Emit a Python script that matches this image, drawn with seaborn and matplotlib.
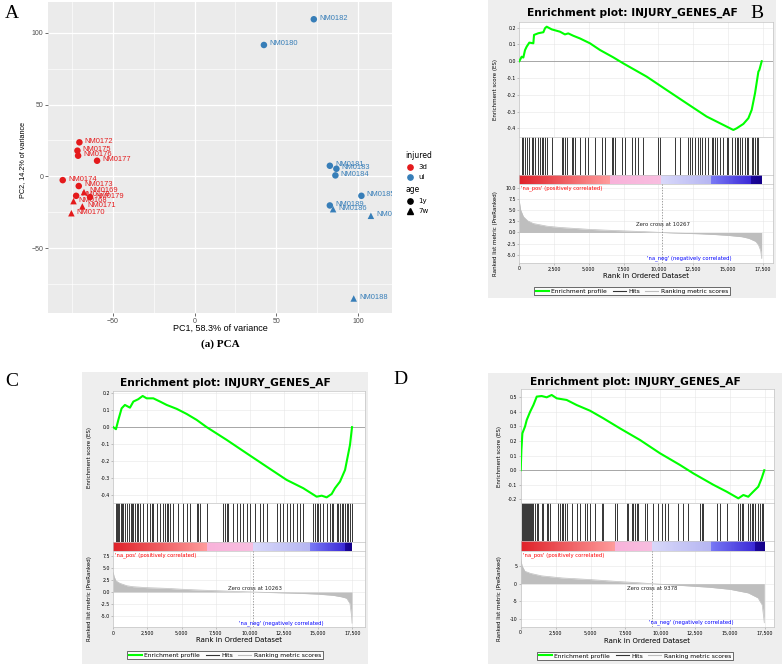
import matplotlib
matplotlib.use("Agg")
import numpy as np
import pandas as pd
import matplotlib.pyplot as plt
import seaborn as sns
from matplotlib.lines import Line2D
from matplotlib.patches import Rectangle
from matplotlib.colors import LinearSegmentedColormap

W, H = 782, 664

# --- panel A: PCA ---
pca_sample = ["NM0172", "NM0175", "NM0176", "NM0177", "NM0174", "NM0173",
              "NM0178", "NM0179", "NM0169", "NM0168", "NM0171", "NM0170",
              "NM0182", "NM0180", "NM0181", "NM0183", "NM0184", "NM0185",
              "NM0189", "NM0186", "NM0187", "NM0188"]
pca_pc1 = [-70.4, -71.6, -71.2, -59.6, -80.6, -70.8, -72.4, -63.9, -67.6, -74.0, -68.6, -75.3,
           72.9, 42.4, 82.7, 86.7, 86.1, 102.0, 82.7, 84.7, 107.8, 97.3]
pca_pc2 = [23.7, 17.9, 14.4, 10.9, -2.6, -6.7, -13.5, -14.4, -10.9, -17.2, -20.9, -25.6,
           109.3, 91.4, 7.4, 5.3, 0.7, -13.5, -20.2, -22.8, -27.4, -84.9]
pca_injured = ["3d", "3d", "3d", "3d", "3d", "3d", "3d", "3d", "3d", "3d", "3d", "3d",
               "ui", "ui", "ui", "ui", "ui", "ui", "ui", "ui", "ui", "ui"]
pca_age = ["1y", "1y", "1y", "1y", "1y", "1y", "1y", "1y", "7w", "7w", "7w", "7w",
           "1y", "1y", "1y", "1y", "1y", "1y", "1y", "7w", "7w", "7w"]

# --- panel B: GSEA ---
b_es_rank = [0, 170, 290, 410, 530, 720, 1010, 1060, 1370, 1730, 1850, 1970, 2330, 2930,
             3280, 3520, 3880, 4360, 5080, 5800, 6760, 7480, 9160, 10600, 12030, 13470,
             14430, 15390, 15630, 16110, 16470, 16710, 16950, 17190, 17260, 17430]
b_es_score = [0.0, 0.027, 0.022, 0.066, 0.087, 0.111, 0.107, 0.157, 0.167, 0.173, 0.197,
              0.206, 0.19, 0.176, 0.16, 0.166, 0.152, 0.136, 0.107, 0.067, 0.023, -0.013,
              -0.092, -0.172, -0.251, -0.33, -0.37, -0.41, -0.40, -0.374, -0.34, -0.29,
              -0.19, -0.062, -0.052, 0.0]
b_hits = [170, 290, 410, 530, 700, 890, 1010, 1130, 1370, 1490, 1610, 1730, 1850, 1970,
          2330, 3040, 3160, 3280, 3400, 3760, 3880, 4000, 4360, 4720, 4960, 5440, 5920,
          6160, 6640, 6760, 6880, 7360, 7600, 8080, 8320, 8560, 8920, 10000, 10120, 11190,
          11550, 12150, 12270, 12390, 12630, 12870, 12990, 13110, 13350, 13590, 13830,
          13950, 14070, 14190, 14430, 14670, 14910, 15030, 15270, 15510, 15630, 15750,
          15870, 15990, 16230, 16350, 16470, 16710, 16830, 16950, 17070, 17190]
b_metric_rank = [0, 100, 300, 600, 1000, 2000, 3000, 4000, 5000, 6000, 7000, 8000, 9000,
                 10267, 11000, 12000, 13000, 14000, 15000, 16000, 16500, 17000, 17200,
                 17350, 17430]
b_metric_score = [7.0, 5.0, 3.5, 2.6, 2.0, 1.4, 1.1, 0.9, 0.7, 0.55, 0.42, 0.3, 0.18, 0.0,
                  -0.1, -0.2, -0.3, -0.45, -0.65, -0.95, -1.3, -2.0, -2.8, -4.0, -5.8]
b_bar_breaks = [6500, 10250, 13800, 16700, 17430]
b_zero = 10267

# --- panel C: GSEA ---
c_es_rank = [0, 195, 370, 610, 850, 1220, 1470, 1830, 2150, 2440, 2930, 3420, 3910, 4640,
             5370, 6100, 6840, 8300, 9760, 11230, 12690, 13910, 14890, 15260, 15620, 15990,
             16230, 16600, 16970, 17210, 17330, 17480]
c_es_score = [0.0, -0.012, 0.043, 0.111, 0.131, 0.115, 0.151, 0.165, 0.184, 0.17, 0.17,
              0.151, 0.131, 0.108, 0.078, 0.043, 0.0, -0.075, -0.154, -0.233, -0.311,
              -0.36, -0.41, -0.404, -0.414, -0.394, -0.36, -0.321, -0.252, -0.154, -0.105, 0.0]
c_hits = [195, 290, 370, 440, 540, 630, 730, 850, 980, 1170, 1270, 1340, 1470, 1590, 1710,
          1830, 1950, 2200, 2440, 2690, 2810, 2930, 3170, 3420, 3660, 3780, 3910, 4030,
          4150, 4390, 4760, 5130, 5370, 5610, 6100, 6220, 6350, 6840, 8060, 8180, 8300,
          8420, 8790, 9030, 9280, 9520, 9760, 10010, 10370, 10740, 10990, 11230, 11960,
          12210, 12450, 12690, 12940, 13180, 13430, 13670, 13910, 14650, 14770, 14890,
          15010, 15130, 15380, 15620, 15870, 15990, 16110, 16360, 16480, 16600, 16720,
          16840, 16970, 17090, 17210, 17330, 17450]
c_metric_rank = [0, 60, 200, 490, 1000, 1460, 2500, 3900, 5000, 6350, 7500, 8790, 10263,
                 12000, 13670, 15000, 16110, 16700, 17090, 17330, 17450, 17480]
c_metric_score = [4.0, 3.2, 2.3, 1.8, 1.3, 1.1, 0.9, 0.76, 0.58, 0.4, 0.28, 0.14, 0.0,
                  -0.15, -0.28, -0.45, -0.7, -1.0, -1.3, -2.4, -5.1, -6.5]
c_bar_breaks = [6850, 10260, 14400, 17050, 17480]
c_zero = 10263

# --- panel D: GSEA ---
d_es_rank = [0, 50, 120, 310, 430, 670, 910, 1150, 1500, 1860, 2220, 2580, 3290, 4010,
             4970, 5920, 7110, 8550, 9980, 11410, 12370, 13800, 14750, 15590, 15950, 16300,
             16660, 17020, 17260, 17450]
d_es_score = [0.0, 0.139, 0.253, 0.30, 0.344, 0.40, 0.447, 0.505, 0.509, 0.50, 0.516,
              0.493, 0.482, 0.447, 0.408, 0.356, 0.287, 0.207, 0.116, 0.036, -0.022, -0.10,
              -0.147, -0.193, -0.17, -0.182, -0.147, -0.113, -0.056, 0.0]
d_hits = [70, 140, 220, 290, 360, 430, 500, 570, 670, 740, 810, 910, 1030, 1150, 1270,
          1500, 1620, 1860, 1980, 2100, 2700, 2820, 2940, 3060, 3180, 3290, 3650, 4010,
          4250, 4610, 4730, 4970, 5320, 5800, 5920, 6760, 6880, 7590, 7710, 7950, 8070,
          8190, 8310, 8430, 8900, 9020, 9500, 9860, 10100, 10340, 10580, 11290, 11650,
          12010, 12840, 12960, 13030, 14040, 14270, 14750, 15590, 15710, 15830, 15950,
          16300, 16420, 16540, 16660, 16780, 17020, 17140, 17260, 17380]
d_metric_rank = [0, 100, 300, 700, 1500, 3000, 5000, 7000, 8300, 9378, 11500, 13500, 15000,
                 16300, 17000, 17300, 17450]
d_metric_score = [7.0, 5.0, 3.5, 2.9, 2.2, 1.6, 1.15, 0.6, 0.3, 0.0, -0.5, -1.0, -1.6,
                  -2.6, -4.0, -6.0, -11.0]
d_bar_breaks = [6720, 9420, 13550, 16800, 17450]
d_zero = 9378

XTICKS = [0, 2500, 5000, 7500, 10000, 12500, 15000, 17500]


def px_rect(x0, y0, x1, y1):
    return [x0 / W, 1 - y1 / H, (x1 - x0) / W, (y1 - y0) / H]


fig = plt.figure(figsize=(W / 100, H / 100), dpi=100)

# ---------------- A: PCA ----------------
pca_df = pd.DataFrame({"sample": pca_sample, "PC1": pca_pc1, "PC2": pca_pc2,
                       "injured": pca_injured, "age": pca_age})
pal = {"3d": "#E41A1C", "ui": "#377EB8"}
ax = fig.add_axes(px_rect(48, 2, 392, 313))
ax.set_facecolor("#EBEBEB")
sns.scatterplot(data=pca_df, x="PC1", y="PC2", hue="injured", style="age",
                palette=pal, markers={"1y": "o", "7w": "^"}, s=22, linewidth=0,
                legend=False, ax=ax, zorder=3)
for _, r in pca_df.iterrows():
    ax.annotate(r["sample"], (r["PC1"], r["PC2"]), xytext=(3.8, 0.8),
                textcoords="offset points", fontsize=5.4, color=pal[r["injured"]],
                va="center", ha="left", family="Liberation Sans", clip_on=True)
ax.set_xlim(-89.6, 120.7)
ax.set_ylim(-95, 121.3)
ax.set_xticks([-50, 0, 50, 100])
ax.set_xticks([-75, -25, 25, 75], minor=True)
ax.set_yticks([-50, 0, 50, 100])
ax.set_yticks([-75, -25, 25, 75], minor=True)
ax.grid(which="major", color="white", lw=0.9)
ax.grid(which="minor", color="white", lw=0.45)
ax.set_axisbelow(True)
for s in ax.spines.values():
    s.set_visible(False)
ax.tick_params(which="major", length=2, width=0.5, color="#333333", labelsize=5,
               labelcolor="#4D4D4D", pad=1.5)
ax.tick_params(which="minor", length=0)
for lab in ax.get_xticklabels() + ax.get_yticklabels():
    lab.set_family("Liberation Sans")
ax.set_xlabel("")
ax.set_ylabel("")
fig.text(220 / W, 1 - 328 / H, "PC1, 58.3% of variance", ha="center", va="center",
         fontsize=6.5, family="Liberation Sans")
fig.text(23 / W, 1 - 160 / H, "PC2, 14.2% of variance", ha="center", va="center",
         rotation=90, fontsize=5.2, family="Liberation Sans")
fig.text(220 / W, 1 - 344 / H, "(a) PCA", ha="center", va="center", fontsize=8,
         fontweight="bold", family="Liberation Serif")

leg1 = ax.legend(handles=[Line2D([], [], marker="o", ls="", color=pal["3d"], ms=3.8),
                          Line2D([], [], marker="o", ls="", color=pal["ui"], ms=3.8)],
                 labels=["3d", "ui"], title="injured", loc="upper left",
                 bbox_to_anchor=(402 / W, 1 - 148 / H), bbox_transform=fig.transFigure,
                 frameon=False, fontsize=5, title_fontsize=5.5, alignment="left",
                 handlelength=1.2, handletextpad=0.6, labelspacing=0.55, borderpad=0)
ax.add_artist(leg1)
ax.legend(handles=[Line2D([], [], marker="o", ls="", color="black", ms=3.8),
                   Line2D([], [], marker="^", ls="", color="black", ms=4.1)],
          labels=["1y", "7w"], title="age", loc="upper left",
          bbox_to_anchor=(402 / W, 1 - 182 / H), bbox_transform=fig.transFigure,
          frameon=False, fontsize=5, title_fontsize=5.5, alignment="left",
          handlelength=1.2, handletextpad=0.6, labelspacing=0.55, borderpad=0)


# ---------------- GSEA panels ----------------
def gsea_panel(p):
    bx0, by0, bx1, by1 = p["box"]
    x0, x175, x1 = p["x"]
    yt, ye, yh, yb, ym, ym1 = p["rows"]
    xmax = (x1 - x0) / (x175 - x0) * 17500

    fig.add_artist(Rectangle((bx0 / W, 1 - by1 / H), (bx1 - bx0) / W, (by1 - by0) / H,
                             transform=fig.transFigure, facecolor="#EEEEEE",
                             edgecolor="none", zorder=-1))
    fig.text((bx0 + bx1) / 2 / W, 1 - yt / H, "Enrichment plot: INJURY_GENES_AF",
             ha="center", va="center", fontsize=7.7, fontweight="bold")

    # enrichment score
    ax_es = fig.add_axes(px_rect(x0, ye, x1, yh))
    ax_es.axhline(0, color="#9A9A9A", lw=0.6, zorder=1)
    sns.lineplot(x=p["es_rank"], y=p["es_score"], color="#00FF00", lw=1.5, ax=ax_es,
                 estimator=None, sort=False, zorder=3)
    ax_es.set_xlim(0, xmax)
    ax_es.set_ylim(*p["es_ylim"])
    ax_es.set_xticks(XTICKS)
    ax_es.set_xticklabels([])
    ax_es.set_yticks(p["es_ticks"])
    ax_es.set_yticklabels([f"{v:.1f}" for v in p["es_ticks"]])

    # hits
    ax_hit = fig.add_axes(px_rect(x0, yh, x1, yb))
    ax_hit.vlines(p["hits"], 0, 1, colors="black", lw=0.55)
    ax_hit.set_xlim(0, xmax)
    ax_hit.set_ylim(0, 1)
    ax_hit.set_xticks([])
    ax_hit.set_yticks([])

    # ranked list colour bar
    pk, lv, bl, nv, e = p["bar"]
    d = 1e-4
    cmap = LinearSegmentedColormap.from_list("bar", [
        (0, "#E0222A"), (pk / e, "#FF9C9C"), (pk / e + d, "#F8B2DA"), (lv / e, "#F8BEE0"),
        (lv / e + d, "#D8D8FA"), (bl / e, "#B6B6F2"), (bl / e + d, "#7A7AF6"),
        (nv / e, "#3A28D6"), (nv / e + d, "#1C089C"), (1, "#14008A")])
    ax_bar = fig.add_axes(px_rect(x0, yb, x1, ym))
    ax_bar.imshow(np.linspace(0, 1, 800).reshape(1, -1), aspect="auto", cmap=cmap,
                  extent=[0, e, 0, 1], interpolation="nearest")
    ax_bar.set_xlim(0, xmax)
    ax_bar.set_ylim(0, 1)
    ax_bar.set_xticks([])
    ax_bar.set_yticks([])

    # ranked list metric
    ax_m = fig.add_axes(px_rect(x0, ym, x1, ym1))
    ax_m.fill_between(p["met_rank"], 0, p["met_score"], color="#BEBEBE", lw=0, zorder=2)
    sns.lineplot(x=p["met_rank"], y=p["met_score"], color="#BEBEBE", lw=0.5, ax=ax_m,
                 estimator=None, sort=False, zorder=2)
    ax_m.axvline(p["zero"], color="#7A7A7A", lw=0.5, ls=(0, (2, 2)), zorder=3)
    zx, zy = p["zero_txt"]
    ax_m.text(zx, zy, f"Zero cross at {p['zero']}", ha="center", va="center",
              fontsize=3.9, color="#222222", zorder=4)
    ax_m.text(150, 0.985, "'na_pos' (positively correlated)", color="#FF0000",
              fontsize=3.8, va="top", ha="left", transform=ax_m.get_xaxis_transform())
    ax_m.text(9180, 0.02, "'na_neg' (negatively correlated)", color="#0000FF",
              fontsize=3.8, va="bottom", ha="left", transform=ax_m.get_xaxis_transform())
    ax_m.set_xlim(0, xmax)
    ax_m.set_ylim(*p["met_ylim"])
    ax_m.set_xticks(XTICKS)
    ax_m.set_xticklabels([f"{v:,}" for v in XTICKS])
    ax_m.set_yticks(p["met_ticks"])
    ax_m.set_yticklabels([p["met_fmt"].format(v) for v in p["met_ticks"]])

    for a in (ax_es, ax_hit, ax_bar, ax_m):
        for s in a.spines.values():
            s.set_color("#C4C4C4")
            s.set_linewidth(0.5)
    for a in (ax_es, ax_m):
        a.grid(color="#E6E6E6", lw=0.4)
        a.set_axisbelow(True)
        a.set_xlabel("")
        a.set_ylabel("")
        a.tick_params(length=1.5, width=0.4, color="#999999", labelsize=3.4, pad=1)

    fig.text((x0 + x1) / 2 / W, 1 - p["xlab_y"] / H, "Rank in Ordered Dataset",
             ha="center", va="center", fontsize=5)
    fig.text(p["ylab_x"] / W, 1 - ((ye + yh) / 2 + 10) / H, "Enrichment score (ES)",
             ha="center", va="center", rotation=90, fontsize=4)
    fig.text(p["ylab_x"] / W, 1 - ((ym + ym1) / 2 + 10) / H,
             "Ranked list metric (PreRanked)", ha="center", va="center", rotation=90,
             fontsize=4)

    handles = [Line2D([], [], color="#00FF00", lw=1.5),
               Line2D([], [], color="#333333", lw=0.8),
               Line2D([], [], color="#BEBEBE", lw=0.8)]
    lx, ly = p["leg"]
    leg = fig.legend(handles, ["Enrichment profile", "Hits", "Ranking metric scores"],
                     loc="center", bbox_to_anchor=(lx / W, 1 - ly / H), ncol=3,
                     fontsize=4.3, frameon=True, fancybox=False, edgecolor="black",
                     handlelength=2.2, handletextpad=0.4, columnspacing=0.9,
                     borderpad=0.25, borderaxespad=0)
    leg.get_frame().set_linewidth(0.5)
    leg.get_frame().set_facecolor("white")


gsea_panel(dict(box=(488, 0, 776, 298), x=(519.3, 762.7, 773),
                rows=(13, 22, 137, 175, 184, 263), es_rank=b_es_rank, es_score=b_es_score,
                es_ylim=(-0.452, 0.234), es_ticks=[0.2, 0.1, 0.0, -0.1, -0.2, -0.3, -0.4],
                hits=b_hits, bar=b_bar_breaks, met_rank=b_metric_rank,
                met_score=b_metric_score, met_ylim=(-6.8, 10.8),
                met_ticks=[10.0, 7.5, 5.0, 2.5, 0.0, -2.5, -5.0], met_fmt="{:.1f}",
                zero=b_zero, zero_txt=(10300, 1.8), xlab_y=276, ylab_x=496,
                leg=(632, 291)))
gsea_panel(dict(box=(82, 372, 368, 664), x=(113.3, 352.3, 365),
                rows=(382.7, 390.7, 503.3, 541.7, 550.7, 627.3), es_rank=c_es_rank,
                es_score=c_es_score, es_ylim=(-0.449, 0.215),
                es_ticks=[0.2, 0.1, 0.0, -0.1, -0.2, -0.3, -0.4], hits=c_hits,
                bar=c_bar_breaks, met_rank=c_metric_rank, met_score=c_metric_score,
                met_ylim=(-7.35, 8.6), met_ticks=[7.5, 5.0, 2.5, 0.0, -2.5, -5.0],
                met_fmt="{:.1f}", zero=c_zero, zero_txt=(10370, 0.8), xlab_y=640,
                ylab_x=90, leg=(225, 655)))
gsea_panel(dict(box=(488, 373, 782, 664), x=(520.7, 765, 774),
                rows=(381.7, 389.3, 503.3, 541, 551, 627), es_rank=d_es_rank,
                es_score=d_es_score, es_ylim=(-0.227, 0.555),
                es_ticks=[0.5, 0.4, 0.3, 0.2, 0.1, 0.0, -0.1, -0.2], hits=d_hits,
                bar=d_bar_breaks, met_rank=d_metric_rank, met_score=d_metric_score,
                met_ylim=(-12.2, 9.2), met_ticks=[5, 0, -5, -10], met_fmt="{:d}",
                zero=d_zero, zero_txt=(9430, -1.3), xlab_y=641, ylab_x=499,
                leg=(635, 656)))

# panel letters
for letter, (lx, ly) in {"A": (5, 14), "B": (750, 13), "C": (5, 381), "D": (393, 380)}.items():
    fig.text(lx / W, 1 - ly / H, letter, ha="left", va="center", fontsize=14,
             family="Liberation Serif")

fig.savefig("out.png", dpi=100)
